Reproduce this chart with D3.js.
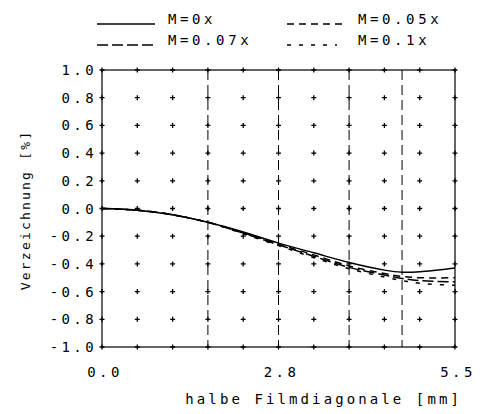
<!-- Verzeichnung vs. halbe Filmdiagonale -->
<html>
<head>
<meta charset="utf-8">
<script src="https://d3js.org/d3.v7.min.js"></script>
<style>
body { margin:0; background:#fff; }
text { font-family: "DejaVu Sans Mono", monospace; fill:#000; }
</style>
</head>
<body>
<svg width="487" height="414"></svg>
<script>

// image height in mm (x), distortion in % (y)
var xPts   = [0, 0.55, 1.1, 1.65, 2.2, 2.75, 3.3, 3.85, 4.4, 4.675, 4.95, 5.5];
var m0     = [0, -0.012, -0.045, -0.10, -0.17, -0.25, -0.32, -0.39, -0.445, -0.46, -0.457, -0.43];
var m005   = [0, -0.012, -0.045, -0.10, -0.175, -0.258, -0.335, -0.415, -0.47, -0.49, -0.50, -0.50];
var m007   = [0, -0.012, -0.045, -0.10, -0.178, -0.262, -0.345, -0.425, -0.48, -0.505, -0.52, -0.53];
var m01    = [0, -0.012, -0.045, -0.10, -0.182, -0.268, -0.355, -0.435, -0.495, -0.52, -0.54, -0.555];

var seriesNames = ["M=0x", "M=0.05x", "M=0.07x", "M=0.1x"];
var yTicks = [1.0, 0.8, 0.6, 0.4, 0.2, 0.0, -0.2, -0.4, -0.6, -0.8, -1.0];
var xTickVals = [0, 2.75, 5.5];
var xTickLabels = ["0.0", "2.8", "5.5"];
var fieldLines = [1.65, 2.75, 3.85, 4.675];   // dashed verticals

var svg = d3.select("svg");
var pLeft = 102, pRight = 455, pTop = 70, pBottom = 347;

var x = d3.scaleLinear().domain([0, 5.5]).range([pLeft, pRight]);
var y = d3.scaleLinear().domain([-1, 1]).range([pBottom, pTop]);

// grid of plotter crosses
var gx = d3.range(0, 11).map(function(i){ return 5.5 * i / 10; });
var crosses = [];
gx.forEach(function(a){ yTicks.forEach(function(b){ crosses.push([a, b]); }); });
svg.append("g").selectAll("path").data(crosses).enter().append("path")
  .attr("d", function(d){
    var cx = x(d[0]), cy = y(d[1]);
    return "M" + (cx-2.5) + "," + cy + "H" + (cx+2.5) + "M" + cx + "," + (cy-2.5) + "V" + (cy+2.5);
  })
  .attr("stroke", "#000").attr("stroke-width", 1.3);

// dashed field lines
svg.append("g").selectAll("line").data(fieldLines).enter().append("line")
  .attr("x1", function(d){ return x(d); }).attr("x2", function(d){ return x(d); })
  .attr("y1", pTop).attr("y2", pBottom)
  .attr("stroke", "#000").attr("stroke-width", 1).attr("stroke-dasharray", "10,5");

// frame
svg.append("rect").attr("x", pLeft).attr("y", pTop).attr("width", pRight-pLeft).attr("height", pBottom-pTop)
  .attr("fill", "none").attr("stroke", "#000").attr("stroke-width", 1.2);

// y tick labels
svg.append("g").selectAll("text").data(yTicks).enter().append("text")
  .attr("x", 97).attr("y", function(d){ return y(d); }).attr("dy", "0.36em")
  .attr("text-anchor", "end").style("font-size", "14px").style("letter-spacing", "3.4px")
  .text(function(d){ return d3.format(".1f")(d).replace("\u2212", "-"); });

// x tick labels
svg.append("g").selectAll("text").data(xTickVals).enter().append("text")
  .attr("x", function(d){ return x(d) + 3; }).attr("y", 377)
  .attr("text-anchor", "middle").style("font-size", "14px").style("letter-spacing", "3.4px")
  .text(function(d, i){ return xTickLabels[i]; });

// axis titles
svg.append("text").attr("x", 462).attr("y", 404).attr("text-anchor", "end")
  .style("font-size", "14px").style("letter-spacing", "3.1px")
  .text("halbe Filmdiagonale [mm]");
svg.append("text").attr("transform", "translate(30,210) rotate(-90)").attr("text-anchor", "middle")
  .style("font-size", "13px").style("letter-spacing", "2.2px")
  .text("Verzeichnung [%]");

// curves
var dashes = [null, "7,5", "11,4", "4,8"];
var allSeries = [m0, m005, m007, m01];
var line = d3.line()
  .x(function(d){ return x(d[0]); })
  .y(function(d){ return y(d[1]); })
  .curve(d3.curveCatmullRom);

allSeries.forEach(function(s, k){
  svg.append("path")
    .datum(xPts.map(function(v, i){ return [v, s[i]]; }))
    .attr("d", line)
    .attr("fill", "none").attr("stroke", "#000").attr("stroke-width", 1.5)
    .attr("stroke-dasharray", dashes[k]);
});

// legend
var legPos = [[97, 24], [287, 24], [97, 45], [287, 45]];
var legLen = [58, 58, 58, 50];
seriesNames.forEach(function(n, k){
  svg.append("line").attr("x1", legPos[k][0]).attr("x2", legPos[k][0] + legLen[k])
    .attr("y1", legPos[k][1]).attr("y2", legPos[k][1])
    .attr("stroke", "#000").attr("stroke-width", 1.3).attr("stroke-dasharray", dashes[k]);
  svg.append("text").attr("x", legPos[k][0] + 71).attr("y", legPos[k][1])
    .style("font-size", "14px").style("letter-spacing", "3.6px")
    .text(n);
});

</script>
</body>
</html>
